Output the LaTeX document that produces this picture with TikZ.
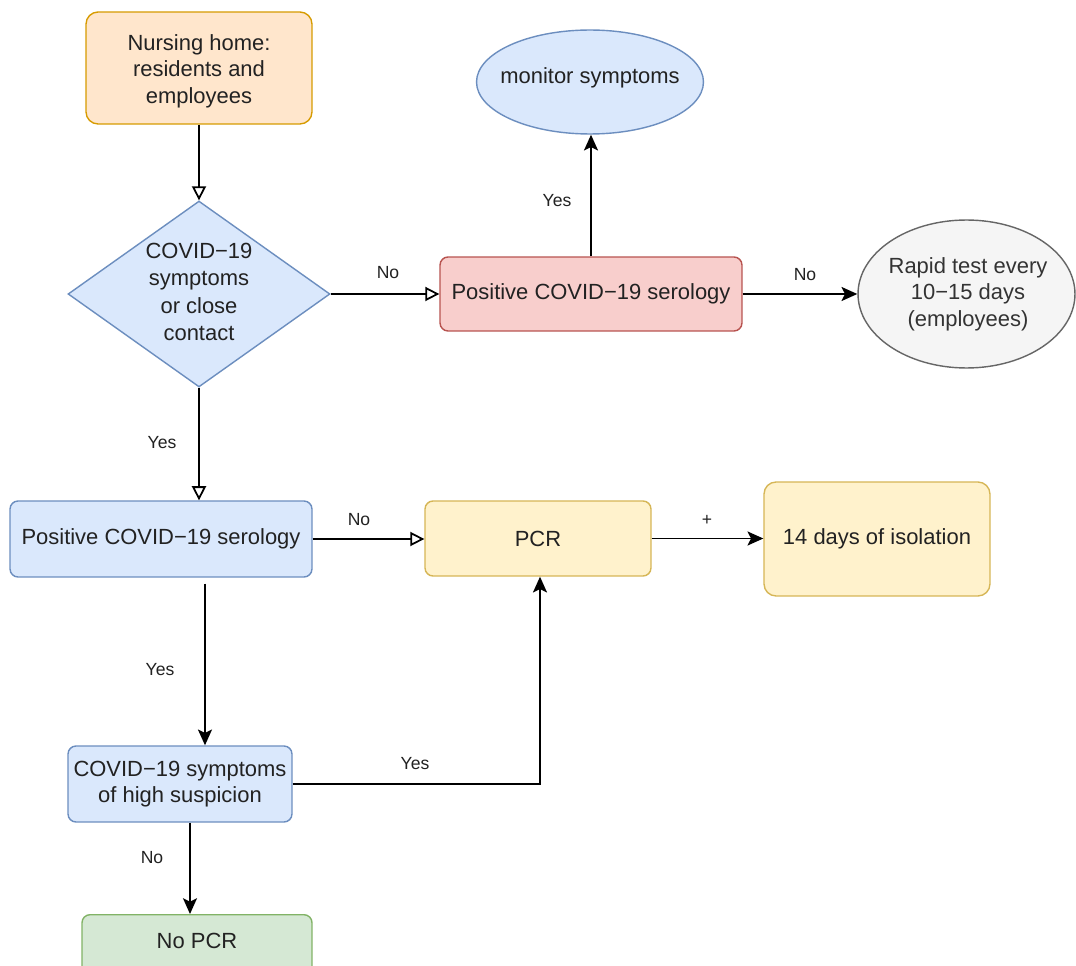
\documentclass[tikz,border=0pt]{standalone}
\usepackage{fontspec}
\setmainfont{Liberation Sans}
\usetikzlibrary{shapes.geometric,arrows.meta,calc}
\definecolor{orF}{HTML}{FFE6CC}\definecolor{orD}{HTML}{D79B00}
\definecolor{blF}{HTML}{DAE8FC}\definecolor{blD}{HTML}{6C8EBF}
\definecolor{rdF}{HTML}{F8CECC}\definecolor{rdD}{HTML}{B85450}
\definecolor{ylF}{HTML}{FFF2CC}\definecolor{ylD}{HTML}{D6B656}
\definecolor{gyF}{HTML}{F5F5F5}\definecolor{gyD}{HTML}{666666}
\definecolor{gnF}{HTML}{D5E8D4}\definecolor{gnD}{HTML}{82B366}
\definecolor{txt}{HTML}{222222}
\tikzset{
  box/.style={draw, rounded corners=0.16cm, line width=0.8pt, align=center, inner sep=2pt,
    text=txt, font=\fontsize{12.5}{15}\selectfont},
  ell/.style={ellipse, draw, line width=0.8pt, inner sep=0pt},
  tx/.style={align=center, text=txt, font=\fontsize{12.5}{15}\selectfont},
  lbl/.style={text=txt, font=\fontsize{10}{12}\selectfont, inner sep=1pt},
  openarr/.style={draw, line width=1pt, -{Triangle[open,length=8pt,width=8pt]}},
  fillarr/.style={draw, line width=1pt, -{Stealth[length=9pt,width=8pt,inset=2pt]}},
}
\begin{document}
\begin{tikzpicture}[x=0.02cm,y=-0.02cm]
\useasboundingbox (0,0) rectangle (1076,966);
\clip (0,0) rectangle (1076,966);
\fill[white] (0,0) rectangle (1076,966);

\node[box, fill=orF, draw=orD, rounded corners=0.24cm, minimum width=4.52cm, minimum height=2.24cm] (nh) at (199,68) {};
\node[tx] (nht) at (199,71) {Nursing home:\\residents and\\employees};
\node[diamond, draw=blD, fill=blF, line width=0.8pt, minimum width=5.24cm, minimum height=3.72cm, inner sep=0pt] (dia) at (199,294) {};
\node[tx, font=\fontsize{12.5}{15.5}\selectfont] (diat) at (199,292) {COVID−19\\symptoms\\or close\\contact};
\node[box, fill=rdF, draw=rdD, minimum width=6.04cm, minimum height=1.48cm] (red) at (591,294) {Positive COVID−19 serology};
\node[ell, fill=blF, draw=blD, minimum width=4.54cm, minimum height=2.08cm] (mon) at (590,82) {};
\node[tx] (mont) at (590,78) {monitor symptoms};
\node[ell, fill=gyF, draw=gyD, minimum width=4.34cm, minimum height=2.96cm] (rapid) at (966.5,294) {};
\node[tx, text=black!80] (rapidt) at (968,294) {Rapid test every\\10−15 days\\(employees)};
\node[box, fill=blF, draw=blD, minimum width=6.04cm, minimum height=1.52cm] (ser2) at (161,539) {Positive COVID−19 serology};
\node[box, fill=ylF, draw=ylD, minimum width=4.52cm, minimum height=1.5cm] (pcr) at (538,538.5) {PCR};
\node[box, fill=ylF, draw=ylD, rounded corners=0.24cm, minimum width=4.52cm, minimum height=2.28cm] (iso) at (877,539) {14 days of isolation};
\node[box, fill=blF, draw=blD, minimum width=4.48cm, minimum height=1.52cm] (sym) at (180,784) {COVID−19 symptoms\\of high suspicion};
\node[box, fill=gnF, draw=gnD, minimum width=4.6cm, minimum height=1.52cm, anchor=north] (nopcr) at (197,914) {};
\node[tx] (nopcrt) at (197,941) {No PCR};

% connectors
\draw[openarr] (nh.south) -- (dia.north);
\draw[openarr] (dia.east) -- (red.west);
\node[lbl] (l1) at (388,273) {No};
\draw[fillarr] (red.north) -- (red.north |- mon.south);
\node[lbl] (l2) at (557,201) {Yes};
\draw[fillarr] (red.east) -- (rapid.west);
\node[lbl] (l3) at (805,275) {No};
\draw[openarr] (dia.south) -- (dia.south |- ser2.north);
\node[lbl] (l4) at (162,443) {Yes};
\draw[openarr] (ser2.east) -- (ser2.east -| pcr.west);
\node[lbl] (l5) at (359,520) {No};
\draw[fillarr] (pcr.east) -- (pcr.east -| iso.west);
\node[lbl] (l6) at (707,520) {+};
\coordinate (s2b) at ([xshift=0.88cm,yshift=-0.12cm]ser2.south);
\draw[fillarr] (s2b) -- (s2b |- sym.north);
\node[lbl] (l7) at (160,670) {Yes};
\draw[fillarr] (sym.east) -| ([xshift=0.04cm]pcr.south);
\node[lbl] (l8) at (415,764) {Yes};
\coordinate (symb) at ([xshift=0.2cm]sym.south);
\draw[fillarr] (symb) -- (symb |- nopcr.north);
\node[lbl] (l9) at (152,858) {No};
\end{tikzpicture}
\end{document}
